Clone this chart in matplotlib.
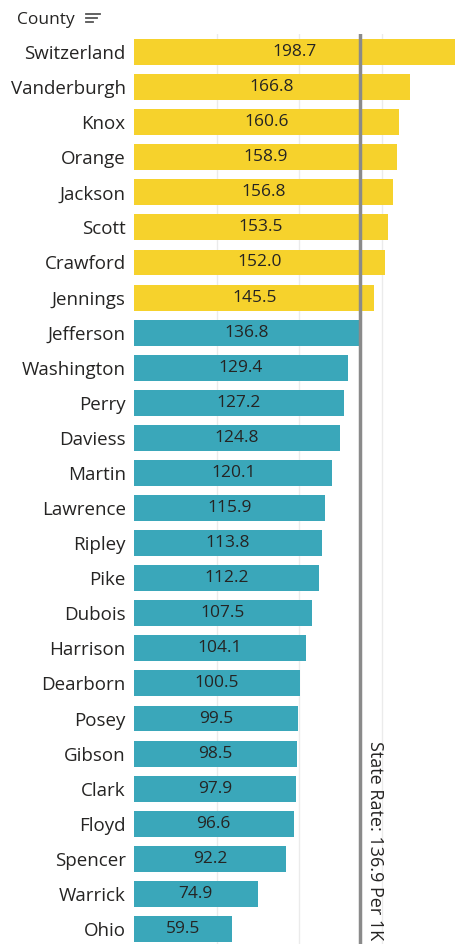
import matplotlib.pyplot as plt
from matplotlib.lines import Line2D

# =====================================
# Datos
# =====================================
condados = ["Switzerland", "Vanderburgh", "Knox", "Orange", "Jackson", "Scott",
            "Crawford", "Jennings", "Jefferson", "Washington", "Perry", "Daviess",
            "Martin", "Lawrence", "Ripley", "Pike", "Dubois", "Harrison",
            "Dearborn", "Posey", "Gibson", "Clark", "Floyd", "Spencer",
            "Warrick", "Ohio"]
tasas = [198.7, 166.8, 160.6, 158.9, 156.8, 153.5, 152.0, 145.5, 136.8, 129.4,
         127.2, 124.8, 120.1, 115.9, 113.8, 112.2, 107.5, 104.1, 100.5, 99.5,
         98.5, 97.9, 96.6, 92.2, 74.9, 59.5]
tasa_estatal = 136.9

AMARILLO = "#F6D22C"
TURQUESA = "#3AA7BA"
TEXTO = "#252423"

plt.rcParams['font.family'] = ['Open Sans', 'DejaVu Sans']

W, H = 456, 944
fig = plt.figure(figsize=(W / 100, H / 100), dpi=100)

# =====================================
# Geometría: filas de ~35 px, la primera centrada en y=52
# =====================================
fila_px = 35.08
top_px = 52 - fila_px / 2
ax = fig.add_axes([134 / W, 0, 1 - 134 / W, (H - top_px) / H])

n = len(condados)
xmax = 322 / 1.652
ys = list(range(n))
colores = [AMARILLO if v > tasa_estatal else TURQUESA for v in tasas]
ax.barh(ys, tasas, height=0.74, color=colores, zorder=2)

for y, v in zip(ys, tasas):
    ax.text(min(v, xmax) / 2, y, f"{v:.1f}", ha="center", va="center",
            fontsize=12.5, color=TEXTO, zorder=3)

ax.axvline(tasa_estatal, color="#8a8a8a", lw=2.5, zorder=4)

bottom = -0.5 + (H - top_px) / fila_px
ax.text(tasa_estatal + 3.5, bottom - 0.1, f"State Rate: {tasa_estatal} Per 1K",
        rotation=270, ha="right", va="bottom", fontsize=13, color=TEXTO,
        rotation_mode="anchor")

ax.set_xlim(0, xmax)
ax.set_ylim(bottom, -0.5)

ax.set_xticks([50, 100, 150])
ax.tick_params(axis="x", length=0, labelbottom=False)
ax.grid(axis="x", color="#ebebeb", lw=1, zorder=0)
ax.set_yticks(ys)
ax.set_yticklabels(condados, fontsize=13.5, color=TEXTO)
ax.tick_params(axis="y", length=0, pad=6)
for s in ax.spines.values():
    s.set_visible(False)

fig.text(17 / W, 1 - 20 / H, "County", ha="left", va="center",
         fontsize=12.5, color=TEXTO)
for i, largo in enumerate([14, 11, 7]):
    yy = 1 - (14 + i * 4) / H
    fig.add_artist(Line2D([86 / W, (86 + largo) / W], [yy, yy],
                          color="#555555", lw=1.3))

fig.savefig("out.png", dpi=100)
